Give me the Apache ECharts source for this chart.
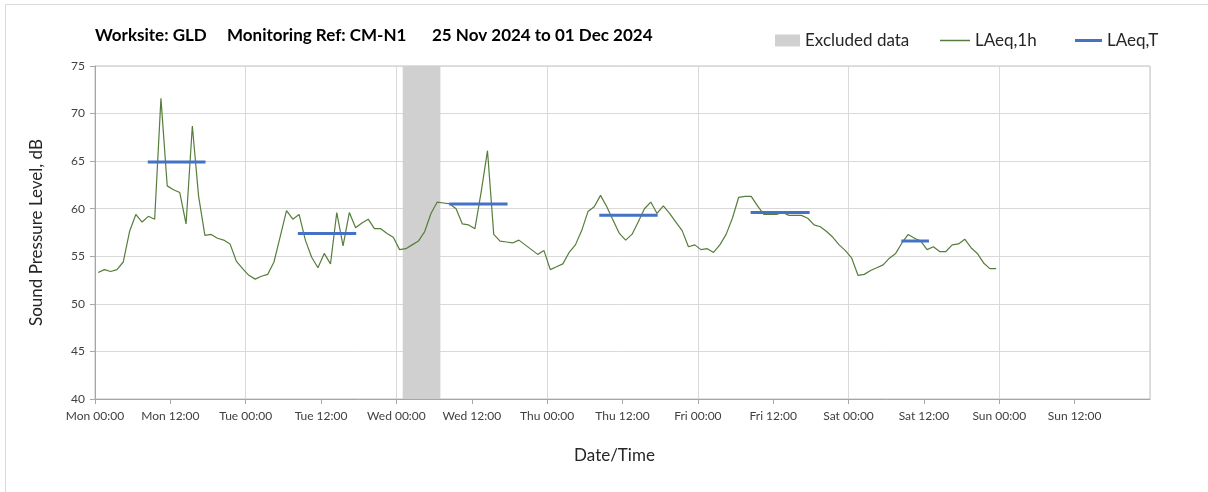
<!DOCTYPE html>
<html>
<head>
<meta charset="utf-8">
<script src="https://cdn.jsdelivr.net/npm/echarts@6/dist/echarts.min.js"></script>
<style>
  html, body { margin: 0; padding: 0; background: #fff; }
  #main { width: 1208px; height: 492px; }
</style>
</head>
<body>
<div id="main"></div>
<script>
// hourly LAeq,1h from Mon 25 Nov 2024 00:00 to Sat 30 Nov 2024 23:00
const lAeq1h = [
  // Mon
  53.3, 53.6, 53.4, 53.6, 54.4, 57.6, 59.4, 58.6, 59.2, 58.9, 71.6, 62.4,
  62.0, 61.7, 58.4, 68.7, 61.3, 57.2, 57.3, 56.9, 56.7, 56.3, 54.5, 53.7,
  // Tue
  53.0, 52.6, 52.9, 53.1, 54.4, 57.1, 59.8, 58.9, 59.4, 56.7, 54.9, 53.8,
  55.3, 54.2, 59.6, 56.1, 59.6, 58.0, 58.5, 58.9, 57.9, 57.9, 57.4, 57.0,
  // Wed
  55.7, 55.8, 56.2, 56.6, 57.6, 59.5, 60.7, 60.6, 60.5, 60.0, 58.4, 58.3,
  57.9, 61.8, 66.1, 57.3, 56.6, 56.5, 56.4, 56.7, 56.2, 55.7, 55.2, 55.6,
  // Thu
  53.6, 53.9, 54.2, 55.4, 56.2, 57.7, 59.7, 60.2, 61.4, 60.2, 58.8, 57.4,
  56.7, 57.3, 58.6, 60.0, 60.7, 59.5, 60.3, 59.5, 58.6, 57.7, 56.0, 56.2,
  // Fri
  55.7, 55.8, 55.4, 56.2, 57.3, 59.0, 61.2, 61.3, 61.3, 60.3, 59.4, 59.4,
  59.4, 59.6, 59.3, 59.3, 59.3, 59.0, 58.3, 58.1, 57.6, 57.0, 56.2, 55.6,
  // Sat
  54.8, 53.0, 53.1, 53.5, 53.8, 54.1, 54.8, 55.3, 56.4, 57.3, 56.9, 56.6,
  55.7, 56.0, 55.5, 55.5, 56.2, 56.3, 56.8, 55.9, 55.3, 54.3, 53.7, 53.7
];

// LAeq,T periods (hours from Mon 00:00)
const tStart = [8.4, 32.3, 56.4, 80.3, 104.4, 128.4];
const tEnd   = [17.6, 41.6, 65.7, 89.6, 113.8, 132.8];
const tLevel = [64.9, 57.4, 60.5, 59.3, 59.6, 56.6];

// excluded data window (hours from Mon 00:00)
const exclStart = 49;
const exclEnd = 55;

const dayNames = ['Mon', 'Tue', 'Wed', 'Thu', 'Fri', 'Sat', 'Sun'];
const yTicks = { min: 40, max: 75, step: 5 };

const font = 'Lato, "Open Sans", sans-serif';

const hourlyData = lAeq1h.map((v, i) => [i + 0.5, v]);
const periodData = [];
tStart.forEach((s, i) => {
  periodData.push([s, tLevel[i]], [tEnd[i], tLevel[i]], [tEnd[i], '-']);
});

function timeLabel(v) {
  const d = Math.floor(v / 24);
  const h = v % 24;
  return dayNames[d] + ' ' + (h === 0 ? '00:00' : '12:00');
}

const options = {
  animation: false,
  backgroundColor: '#fff',
  textStyle: { fontFamily: font },
  graphic: [{
    type: 'rect',
    shape: { x: 5.5, y: 4.5, width: 1220, height: 520 },
    style: { fill: 'none', stroke: '#d9d9d9', lineWidth: 1 },
    silent: true
  }],
  title: [
    { text: 'Worksite: GLD', left: 90 },
    { text: 'Monitoring Ref: CM-N1', left: 222 },
    { text: '25 Nov 2024 to 01 Dec 2024', left: 427 }
  ].map(t => Object.assign(t, {
    top: 22,
    textStyle: { fontFamily: font, fontSize: 17, fontWeight: 'bold', color: '#000' }
  })),
  legend: [
    { left: 770, itemWidth: 25, itemHeight: 12, data: [{ name: 'Excluded data', icon: 'rect', itemStyle: { color: '#d0d0d0' } }] },
    { left: 935, itemWidth: 30, itemHeight: 1.5, data: [{ name: 'LAeq,1h', icon: 'rect', itemStyle: { color: '#567d3b' } }] },
    { left: 1070, itemWidth: 27, itemHeight: 3, data: [{ name: 'LAeq,T', icon: 'rect', itemStyle: { color: '#4472c4' } }] }
  ].map(l => Object.assign(l, {
    top: 27, height: 20, selectedMode: false,
    textStyle: { fontFamily: font, fontSize: 17, color: '#262626' }
  })),
  grid: {
    left: 95, right: 58, top: 66, bottom: 93,
    show: true, borderColor: '#bfbfbf', borderWidth: 1
  },
  xAxis: [{
    type: 'value',
    min: 0, max: 168, interval: 12,
    name: 'Date/Time',
    nameLocation: 'middle',
    nameGap: 48,
    nameTextStyle: { fontFamily: font, fontSize: 17, color: '#262626', padding: [0, 16, 0, 0] },
    axisLine: { lineStyle: { color: '#a6a6a6' } },
    axisTick: { show: true, inside: false, length: 5, lineStyle: { color: '#a6a6a6' } },
    axisLabel: {
      formatter: timeLabel, showMaxLabel: false, margin: 11,
      fontFamily: font, fontSize: 12, color: '#404040'
    },
    splitLine: { show: false }
  }, {
    type: 'value',
    min: 0, max: 168, interval: 24,
    position: 'bottom',
    axisLine: { show: false },
    axisTick: { show: false },
    axisLabel: { show: false },
    splitLine: { show: true, lineStyle: { color: '#d9d9d9' } }
  }],
  yAxis: {
    type: 'value',
    min: yTicks.min, max: yTicks.max, interval: yTicks.step,
    name: 'Sound Pressure Level, dB',
    nameLocation: 'middle',
    nameGap: 50,
    nameTextStyle: { fontFamily: font, fontSize: 17, color: '#262626' },
    axisLine: { show: true, lineStyle: { color: '#a6a6a6' } },
    axisTick: { show: true, length: 5, lineStyle: { color: '#a6a6a6' } },
    axisLabel: { fontFamily: font, fontSize: 12, color: '#404040', margin: 10 },
    splitLine: { show: true, lineStyle: { color: '#d9d9d9' } }
  },
  series: [
    {
      name: 'Excluded data',
      type: 'line',
      data: [],
      itemStyle: { color: '#d0d0d0' },
      markArea: {
        silent: true,
        itemStyle: { color: '#d0d0d0' },
        data: [[{ xAxis: exclStart }, { xAxis: exclEnd }]]
      }
    },
    {
      name: 'LAeq,1h',
      type: 'line',
      data: hourlyData,
      symbol: 'none',
      itemStyle: { color: '#567d3b' },
      lineStyle: { color: '#567d3b', width: 1.2 },
      z: 3
    },
    {
      name: 'LAeq,T',
      type: 'line',
      data: periodData,
      symbol: 'none',
      connectNulls: false,
      itemStyle: { color: '#4472c4' },
      lineStyle: { color: '#4472c4', width: 3 },
      z: 4
    }
  ]
};

var myChart = echarts.init(document.getElementById('main'));
myChart.setOption(options);
</script>
</body>
</html>
